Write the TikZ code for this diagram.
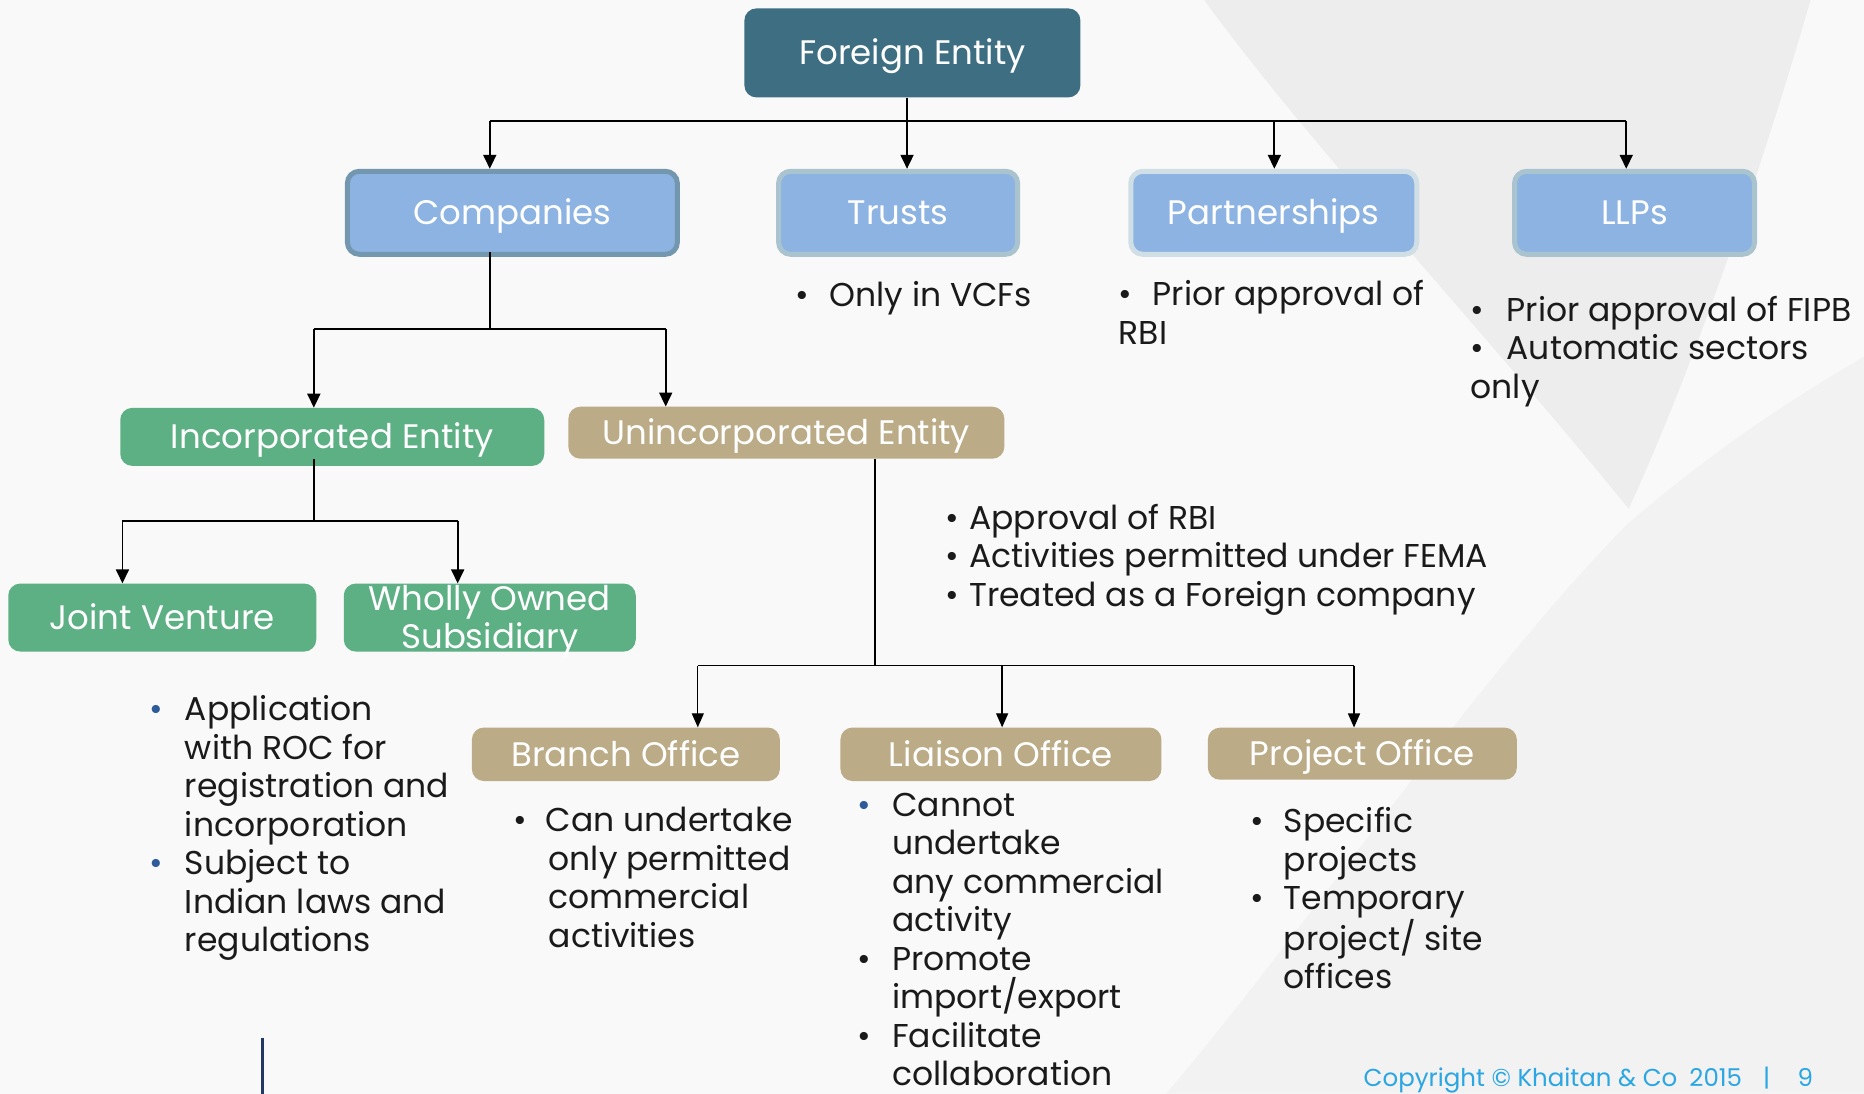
\documentclass[tikz,border=0pt]{standalone}
\usepackage{fontspec}
\setmainfont{Poppins}
\usetikzlibrary{arrows.meta,calc}

\definecolor{bgc}{HTML}{F9F9F9}
\definecolor{bgvee}{HTML}{EDEDED}
\definecolor{bglow}{HTML}{F2F2F2}
\definecolor{feblue}{HTML}{3E6E82}
\definecolor{lblue}{HTML}{8DB3E2}
\definecolor{rimdark}{HTML}{7497B0}
\definecolor{rimmid}{HTML}{A9C4CE}
\definecolor{rimlight}{HTML}{D0DFE6}
\definecolor{entgreen}{HTML}{5DAF84}
\definecolor{enttan}{HTML}{BBAB86}
\definecolor{bulblue}{HTML}{2E5C9A}
\definecolor{copyblue}{HTML}{2AA6E2}
\definecolor{txt}{HTML}{1A1A1A}
\definecolor{navy}{HTML}{1F3864}

\newcommand\labfont{\fontsize{34}{38}\selectfont}
\newcommand\bulfont{\fontsize{33}{38.5}\selectfont}
% bullet with a fixed-width hanging column
\newcommand\bul[2][txt]{\makebox[#2][l]{\textcolor{#1}{\textbullet}}}

\tikzset{
  box/.style={rounded corners=12pt, inner sep=0pt, text=white, font=\labfont, align=center},
  onebox/.style={box, text height=24pt, text depth=0pt},
  topbox/.style={onebox, fill=lblue, line width=5pt, minimum height=83pt},
  conn/.style={line width=1.8pt, draw=black},
  thinconn/.style={line width=1.3pt, draw=black},
  arr/.style={conn, -{Triangle[length=14pt,width=13pt]}},
  thinarr/.style={thinconn, -{Triangle[length=14pt,width=12pt]}},
  notes/.style={anchor=north west, inner sep=0pt, align=left, font=\bulfont, text=txt,
    execute at begin node={\rule{0pt}{26pt}}},
}

\begin{document}
\begin{tikzpicture}[x=1.18878pt, y=-1.18878pt]
\useasboundingbox (0,0) rectangle (1568,920);
\fill[bgc] (0,0) rectangle (1568,920);
% soft chevron pattern in the background
\fill[bgvee] (1013,0) -- (1523,0) .. controls (1480,150) and (1420,320) .. (1370,428)
  .. controls (1250,280) and (1100,120) .. cycle;
\fill[bglow] (1370,440) .. controls (1440,380) and (1500,340) .. (1568,300) -- (1568,920) -- (981,920)
  .. controls (1100,780) and (1250,560) .. cycle;

% top level
\node[onebox, fill=feblue, minimum width=336pt, minimum height=89pt] (fe) at (767.5,44.5) {Foreign Entity};

\node[topbox, draw=rimdark, minimum width=330pt] (comp) at (431,179) {Companies};
\node[topbox, draw=rimmid, minimum width=239pt] (trusts) at (755.5,179) {Trusts};
\node[topbox, draw=rimlight, minimum width=286pt] (partn) at (1071.5,179) {Partnerships};
\node[topbox, draw=rimmid, minimum width=240pt] (llps) at (1375,179) {LLPs};

% second level
\node[onebox, fill=entgreen, minimum width=424pt, minimum height=58pt] (inc) at (279.5,367.5) {Incorporated Entity};
\node[onebox, fill=enttan, minimum width=436pt, minimum height=52pt] (uninc) at (661.5,364) {Unincorporated Entity};

% third level
\node[onebox, fill=entgreen, minimum width=308pt, minimum height=68pt] (jv) at (136.5,519.5) {Joint Venture};
\node[box, fill=entgreen, minimum width=292pt, minimum height=68pt] (wos) at (412,519.5)
  {\raisebox{-10.5pt}[0pt][0pt]{\begin{tabular}{@{}c@{}}Wholly Owned\\Subsidiary\end{tabular}}};
\node[onebox, fill=enttan, minimum width=308pt, minimum height=53.5pt] (branch) at (526.5,634.5) {Branch Office};
\node[onebox, fill=enttan, minimum width=321pt, minimum height=53.5pt] (liaison) at (842,634.5) {Liaison Office};
\node[onebox, fill=enttan, minimum width=309pt, minimum height=52pt] (project) at (1146,634) {Project Office};

% connectors: Foreign Entity to the four forms
\coordinate (bus) at (763,102);
\coordinate (b1) at (412,102);
\coordinate (b3) at (1072,102);
\coordinate (b4) at (1368,102);
\draw[conn, line width=2.6pt] (fe.south -| bus) -- (bus);
\draw[conn] (b1) -- (b4);
\draw[arr] (b1) -- (b1 |- comp.north);
\draw[arr] (bus) -- (bus |- trusts.north);
\draw[arr] (b3) -- (b3 |- partn.north);
\draw[arr] (b4) -- (b4 |- llps.north);

% Companies to entity types
\coordinate (c0) at (412,277);
\coordinate (c1) at (264,277);
\coordinate (c2) at (560,277);
\draw[conn] ($(comp.south -| c0)+(0,-4)$) -- (c0);
\draw[conn] (c1) -- (c2);
\draw[arr] (c1) -- (c1 |- inc.north);
\draw[arr] (c2) -- (c2 |- uninc.north);

% Incorporated entity branches
\coordinate (d0) at (264,438);
\coordinate (d1) at (103,438);
\coordinate (d2) at (385,438);
\draw[conn] ($(inc.south -| d0)+(0,-6)$) -- (d0);
\draw[conn] (d1) -- (d2);
\draw[arr] (d1) -- (d1 |- jv.north);
\draw[arr] (d2) -- (d2 |- wos.north);

% Unincorporated entity branches
\coordinate (e0) at (736,560);
\coordinate (e1) at (587,560);
\coordinate (e2) at (843,560);
\coordinate (e3) at (1139,560);
\draw[thinconn] (uninc.south -| e0) -- (e0);
\draw[thinconn] (e1) -- (e3);
\draw[thinarr] (e1) -- (e1 |- branch.north);
\draw[thinarr] (e2) -- (e2 |- liaison.north);
\draw[thinarr] (e3) -- (e3 |- project.north);

% notes
\node[notes] (ntrusts) at (669,236) {\bul{34pt}Only in VCFs};
\node[notes] (npartn) at (941,236) {\bul{34pt}Prior approval of\\RBI};
\node[notes] (nllps) at (1237,249) {\bul{36pt}Prior approval of FIPB\\\bul{36pt}Automatic sectors\\only};
\node[notes] (nunc) at (795,424) {\bul{24pt}Approval of RBI\\\bul{24pt}Activities permitted under FEMA\\\bul{24pt}Treated as a Foreign company};
\node[notes] (ninc) at (126,585) {\bul[bulblue]{35pt}Application\\\hspace*{35pt}with ROC for\\\hspace*{35pt}registration and\\\hspace*{35pt}incorporation\\\bul[bulblue]{35pt}Subject to\\\hspace*{35pt}Indian laws and\\\hspace*{35pt}regulations};
\node[notes] (nbranch) at (432,679) {\bul{32pt}Can undertake\\\hspace*{35pt}only permitted\\\hspace*{35pt}commercial\\\hspace*{35pt}activities};
\node[notes] (nliaison) at (721,667) {\bul[bulblue]{35pt}Cannot\\\hspace*{35pt}undertake\\\hspace*{35pt}any commercial\\\hspace*{35pt}activity\\\bul{35pt}Promote\\\hspace*{35pt}import/export\\\bul{35pt}Facilitate\\\hspace*{35pt}collaboration};
\node[notes] (nproject) at (1052,679) {\bul{33pt}Specific\\\hspace*{33pt}projects\\\bul{33pt}Temporary\\\hspace*{33pt}project/ site\\\hspace*{33pt}offices};

% footer
\node[anchor=base west, inner sep=0pt, text=copyblue, font=\fontsize{24.5}{28}\selectfont] (copy) at (1147,914)
  {\makebox[325.7pt][l]{Copyright © Khaitan \& Co}\makebox[73.7pt][l]{2015}\makebox[34.5pt][l]{|}9};
\coordinate (m0) at (221,873);
\coordinate (m1) at (221,922);
\draw[navy, line width=3.5pt] (m0) -- (m1);
\end{tikzpicture}
\end{document}
